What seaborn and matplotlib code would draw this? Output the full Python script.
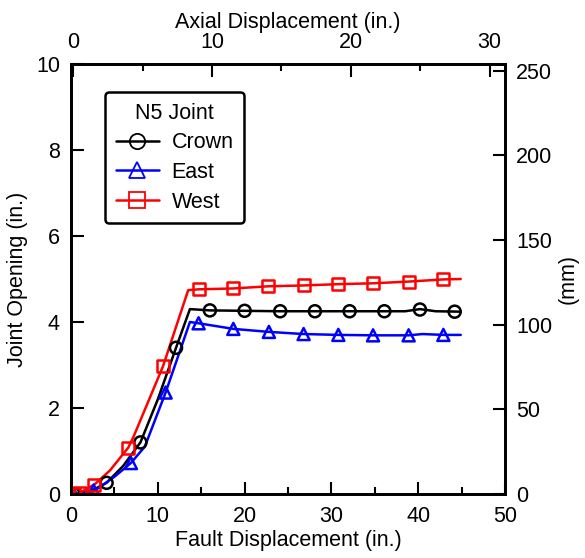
import matplotlib
matplotlib.use("Agg")
import matplotlib.pyplot as plt
import seaborn as sns
from matplotlib.lines import Line2D
from matplotlib.ticker import MultipleLocator

# Marker data (fault displacement in., joint opening in.)
crown_x = [0.3, 4.1, 8.0, 12.1, 16.0, 20.0, 24.1, 28.1, 32.1, 36.1, 40.2, 44.2]
crown_y = [0.0, 0.26, 1.2, 3.4, 4.27, 4.26, 4.25, 4.25, 4.25, 4.25, 4.29, 4.24]
east_x = [0.3, 2.6, 6.9, 10.9, 14.7, 18.7, 22.8, 26.8, 30.8, 34.8, 38.9, 42.9]
east_y = [0.0, 0.08, 0.72, 2.36, 3.97, 3.84, 3.77, 3.72, 3.70, 3.69, 3.69, 3.70]
west_x = [0.3, 1.0, 2.7, 6.6, 10.6, 14.7, 18.7, 22.7, 26.8, 30.8, 34.8, 38.9, 42.9]
west_y = [0.0, 0.03, 0.22, 1.08, 2.97, 4.76, 4.78, 4.83, 4.85, 4.88, 4.90, 4.94, 4.99]

# Continuous record lines
crown_line_x = [0, 2, 4.1, 6, 8, 10, 12.1, 13.7, 16, 20, 24, 28, 32, 36, 38.5, 40.2, 42, 44.9]
crown_line_y = [0, 0.04, 0.26, 0.65, 1.2, 2.2, 3.4, 4.3, 4.27, 4.26, 4.25, 4.25, 4.25, 4.25, 4.25, 4.3, 4.25, 4.24]
east_line_x = [0, 2.6, 5, 6.9, 8.5, 10.9, 13.7, 14.7, 18.7, 22.8, 26.8, 30.8, 34.8, 38.9, 40.5, 42.9, 44.9]
east_line_y = [0, 0.06, 0.4, 0.72, 1.1, 2.36, 4.0, 3.97, 3.84, 3.77, 3.72, 3.70, 3.69, 3.69, 3.72, 3.70, 3.70]
west_line_x = [0, 1.0, 2.7, 4.5, 6.6, 7.2, 10.6, 13.5, 14.7, 18.7, 22.7, 26.8, 30.8, 34.8, 38.9, 42.9, 44.9]
west_line_y = [0, 0.03, 0.22, 0.55, 1.08, 1.33, 2.97, 4.74, 4.76, 4.78, 4.83, 4.85, 4.88, 4.90, 4.94, 4.99, 5.0]

series = [
    ("Crown", "black", "o", crown_line_x, crown_line_y, crown_x, crown_y),
    ("East", "#0000ff", "^", east_line_x, east_line_y, east_x, east_y),
    ("West", "#ff0000", "s", west_line_x, west_line_y, west_x, west_y),
]

sns.set_style("ticks")
plt.rcParams["font.family"] = ["Liberation Sans", "DejaVu Sans"]
plt.rcParams["font.size"] = 15.5
for k in ("text.color", "axes.labelcolor", "xtick.color", "ytick.color", "axes.edgecolor"):
    plt.rcParams[k] = "black"

fig = plt.figure(figsize=(5.85, 5.58), dpi=100)
ax = fig.add_axes([71 / 585, 1 - 494 / 558, 434 / 585, 430 / 558])

handles = []
for name, col, mk, lx, ly, mx, my in series:
    sns.lineplot(x=lx, y=ly, ax=ax, color=col, linewidth=1.8, sort=False, estimator=None)
    sns.scatterplot(x=mx, y=my, ax=ax, marker=mk, s=75, facecolor="none",
                    edgecolor=col, linewidth=1.8, zorder=4)
    handles.append(Line2D([0], [0], color=col, lw=1.8, marker=mk, markersize=11,
                          markerfacecolor="none", markeredgecolor=col, markeredgewidth=1.3))

ax.set_xlim(0, 50)
ax.set_ylim(0, 10)
ax.xaxis.set_major_locator(MultipleLocator(10))
ax.xaxis.set_minor_locator(MultipleLocator(5))
ax.yaxis.set_major_locator(MultipleLocator(2))
ax.set_xlabel("Fault Displacement (in.)", labelpad=2)
ax.set_ylabel("Joint Opening (in.)", labelpad=6)
ax.tick_params(which="both", direction="in", width=1.5, top=False, right=False)
ax.tick_params(which="major", length=9)
ax.tick_params(which="minor", length=5)
ax.tick_params(axis="x", pad=9)
ax.tick_params(axis="y", pad=8)
for s in ax.spines.values():
    s.set_linewidth(1.8)

# top axis: axial displacement
axt = ax.twiny()
axt.set_xlim(-0.15, 31.1)
axt.xaxis.set_major_locator(MultipleLocator(10))
axt.xaxis.set_minor_locator(MultipleLocator(5))
axt.set_xlabel("Axial Displacement (in.)", labelpad=3)
axt.tick_params(which="both", direction="in", width=1.5, pad=8)
axt.tick_params(which="major", length=9)
axt.tick_params(which="minor", length=5)

# right axis: mm
axr = ax.twinx()
axr.set_ylim(0, 254)
axr.yaxis.set_major_locator(MultipleLocator(50))
axr.set_ylabel("(mm)", labelpad=4)
axr.tick_params(which="both", direction="in", width=1.5, length=9, pad=8)
for a in (axt, axr):
    for s in a.spines.values():
        s.set_linewidth(1.8)

leg = ax.legend(handles, [s[0] for s in series], title="N5 Joint",
                loc="upper left", bbox_to_anchor=(0.078, 0.935), frameon=True,
                fancybox=True, edgecolor="black", handlelength=2.0,
                borderpad=0.5, labelspacing=0.4, handletextpad=0.6,
                borderaxespad=0)
leg.get_frame().set_linewidth(1.8)
leg.get_frame().set_alpha(1)
leg.get_title().set_fontsize(15.5)

fig.savefig("out.png", dpi=100)
